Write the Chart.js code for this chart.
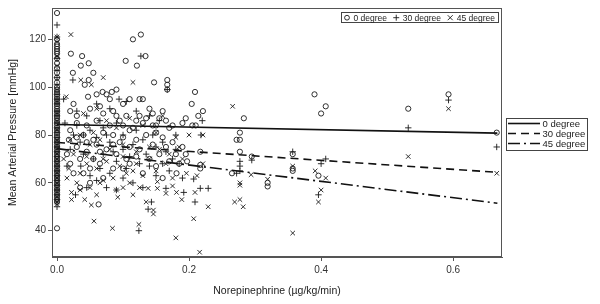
<!DOCTYPE html>
<html><head><meta charset="utf-8">
<script src="https://cdn.jsdelivr.net/npm/chart.js@4/dist/chart.umd.min.js"></script>
<style>html,body{margin:0;padding:0;background:#fff}canvas{display:block}</style>
</head><body>
<canvas id="c" width="600" height="304"></canvas>
<script>
// ---- data ----
const seriesNames = ["0 degree", "30 degree", "45 degree"];
const xTickVals = [0, 0.2, 0.4, 0.6];
const yTickVals = [40, 60, 80, 100, 120];
const xTitle = "Norepinephrine (µg/kg/min)";
const yTitle = "Mean Arterial Pressure [mmHg]";

// 0 degree (circles)
const deg0ZeroY = [131,120,118,117,116,115,114,112,110,108,106,104,102,100,99,98,97,96,95,94,93,92,91,90,89,88,87,86,85,84,83,82,81,80,79,78,77,76,75,74,73,72,71,70,69,68,67,66,65,64,63,62,61,60,59,58,57,56,55,54,53,52,41];
const deg0X = [0.021,0.038,0.036,0.048,0.024,0.055,0.048,0.042,0.047,0.06,0.069,0.075,0.083,0.09,0.104,0.115,0.121,0.127,0.134,0.147,0.167,0.167,0.167,
 0.08,0.1,0.11,0.125,0.13,0.14,0.145,0.155,0.16,0.12,0.09,0.07,0.03,0.02,0.03,0.045,0.06,0.08,0.1,0.115,0.13,0.15,0.17,0.175,0.19,0.195,
 0.02,0.03,0.04,0.055,0.07,0.085,0.1,0.11,0.12,0.135,0.15,0.16,0.175,0.19,0.015,0.03,0.045,0.06,0.075,0.09,0.105,0.12,0.14,0.155,0.17,0.185,0.197,0.02,0.035,0.05,0.065,0.1,0.13,0.16,0.181,0.04,0.07,0.05,0.035,0.063,
 0.209,0.204,0.221,0.214,0.205,0.21,0.283,0.39,0.407,0.40,0.532,0.593,0.666,
 0.277,0.277,0.272,0.217,0.277,0.295,0.357,0.357,0.357,0.265,0.319,0.319,0.396,0.217,0.217,
 0.025,0.05,0.065,0.085,0.095,0.105,0.125,0.135,0.145,0.165,0.018,0.045,0.065,0.085,0.095,0.11,0.125,0.145,0.165,0.18,0.025,0.055,0.085,0.11,0.15,0.195];
const deg0Y = [114,113,109,110,106,106,103,101,96,97,98,97,98,99,111,120,109,122,113,102,103,101,99,
 95,93,95,95,95,91,89,87,90,86,88,89,88,90,85,84,86,84,84,83,85,84,83,84,85,87,
 82,79,80,78,81,80,79,82,78,80,81,79,77,75,72,75,73,76,74,72,70,71,70,72,69,68,69,68,70,66,68,66,64,62,64,64,62,60,58,51,
 98,93,90,88,84,84,87,97,92,89,91,97,81,
 81,78,78,73,73,71,72,66,65,64,60,58.5,63,66,67.5,
 93,91,92,90,86,88,88,87,84,86,78,77,73,76,77,75,74,76,75,72,64,70,66,68,67,72];

// 30 degree (plus)
const deg30ZeroY = [126,121,112,107,104,101,97,95,93,90,88,85,83,81,79,77,75,73,71,69,67,65,63,61,59,57,55,53,50];
const deg30X = [0.024,0.127,0.167,0.01,0.03,0.045,0.06,0.08,0.094,0.105,0.12,0.14,0.155,0.09,0.07,0.05,0.025,0.035,0.06,0.08,0.1,0.115,0.13,0.15,0.165,0.18,0.02,0.04,0.055,0.07,0.09,0.11,0.125,0.14,0.16,0.175,0.015,0.036,0.05,0.065,0.08,0.1,0.115,0.13,0.15,0.17,0.185,
 0.028,0.045,0.09,0.143,0.138,0.124,0.165,0.192,0.209,0.217,0.229,0.207,0.218,0.22,0.277,0.277,0.277,0.272,0.295,0.357,0.407,0.40,0.396,0.532,0.593,0.666,
 0.012,0.03,0.04,0.065,0.075,0.085,0.1,0.12,0.135,0.145,0.16,0.18,0.19,0.06,0.075,0.105];
const deg30Y = [103,113,99,95,90,88,93,91,95,94,90,88,86,85,83,82,80,77,79,77,80,76,78,75,73,74,74,72,70,72,69,71,68,67,68,70,67,67,63,66,64,62,60,58,63,65,68,
 55,58,57,52,49,40,57.7,56,52,57.7,57.7,61.6,80,86,69,67,65,64,69.5,73,70,68,55,83,94.6,75,
 85,84,80,86,80,73,74,82,72,80,77,80,62,61,58,66];

// 45 degree (cross)
const deg45ZeroY = [121,119,113,109,99,94,89,86,82,78,76,74,72,70,68,66,64,62,60,58,56,54,52,51];
const deg45X = [0.021,0.036,0.07,0.052,0.115,0.014,0.04,0.06,0.075,0.09,0.11,0.13,0.15,0.16,0.18,0.2,0.221,0.266,
 0.02,0.035,0.05,0.065,0.08,0.1,0.12,0.14,0.17,0.19,0.01,0.025,0.045,0.06,0.075,0.095,0.115,0.13,0.15,0.175,0.196,0.015,0.03,0.05,0.065,0.09,0.11,0.125,
 0.152,0.138,0.152,0.175,0.181,0.165,0.189,0.022,0.022,0.042,0.052,0.092,0.135,0.146,0.146,0.056,0.084,0.124,0.18,0.207,
 0.209,0.212,0.221,0.229,0.269,0.277,0.282,0.277,0.277,0.294,0.319,0.357,0.216,0.391,0.407,0.396,0.40,0.532,0.593,0.666,0.357,
 0.018,0.035,0.045,0.055,0.07,0.085,0.1,0.105,0.12,0.14,0.155,0.165,0.185,0.035,0.06,0.07,0.1,0.115];
const deg45Y = [122,103,104,101,102,96,89,91,86,83,87,84,81,88,79,80,80,92,
 78,80,76,78,74,76,73,75,72,70,70,72,68,66,69,67,65,63,65,62,64,62,60,58,60,57,60,58,
 60.5,57.7,57.7,58.7,56,55.6,53,53,56,53,50.7,54,52,48.6,47,44,41,42.6,37,45,
 56,63,68,50,52,53,50,60,59,63.4,61.5,39,31,65,62,52,57,71,91,64,67,
 66,64,71,81,70,62,71,64,68,70,74,68,75,57,55,61,58,55];

// fitted regression lines (end points)
const fitX = [0, 0.667];
const fit0Y = [84.4, 80.8];
const fit30Y = [76.9, 64.4];
const fit45Y = [74.3, 51.5];

// ---- build ----
function pts(xs, ys){ return xs.map((x,i)=>({x:x, y:ys[i]})); }
function zeroPts(ys){ return ys.map(y=>({x:0, y:y})); }

const INK = '#1a1a1a';
const FONT = "'Liberation Sans', Arial, sans-serif";

const scatterBase = {type:'scatter', showLine:false, borderColor:INK, backgroundColor:'rgba(0,0,0,0)', borderWidth:0.9, pointHoverRadius:3};

const datasets = [
  Object.assign({}, scatterBase, {label:seriesNames[0], data: zeroPts(deg0ZeroY).concat(pts(deg0X,deg0Y)), pointStyle:'circle', pointRadius:2.6}),
  Object.assign({}, scatterBase, {label:seriesNames[1], data: zeroPts(deg30ZeroY).concat(pts(deg30X,deg30Y)), pointStyle:'cross', pointRadius:3.2}),
  Object.assign({}, scatterBase, {label:seriesNames[2], data: zeroPts(deg45ZeroY).concat(pts(deg45X,deg45Y)), pointStyle:'crossRot', pointRadius:3.2}),
  {type:'line', label:seriesNames[0]+' fit', data: pts(fitX, fit0Y), borderColor:'#111', borderWidth:1.6, pointRadius:0, fill:false},
  {type:'line', label:seriesNames[1]+' fit', data: pts(fitX, fit30Y), borderColor:'#111', borderWidth:1.6, borderDash:[8,5], pointRadius:0, fill:false},
  {type:'line', label:seriesNames[2]+' fit', data: pts(fitX, fit45Y), borderColor:'#111', borderWidth:1.6, borderDash:[12,4,2,4], pointRadius:0, fill:false}
];

const frameAndLegends = {
  id:'frameAndLegends',
  afterDraw(chart){
    const ctx = chart.ctx, a = chart.chartArea;
    ctx.save();
    ctx.strokeStyle = '#555'; ctx.lineWidth = 1;
    ctx.strokeRect(Math.round(a.left)+0.5, Math.round(a.top)+0.5, Math.round(a.right-a.left)-1, Math.round(a.bottom-a.top)-1);

    // top legend (markers)
    ctx.strokeStyle = '#444';
    ctx.strokeRect(341.5, 12.5, 157, 10);
    ctx.fillStyle = '#222';
    ctx.font = "8.5px " + FONT;
    ctx.textBaseline = 'middle';
    const ly = 17.7;
    const w = seriesNames.map(s=>ctx.measureText(s).width);
    const markW = 6, gapMT = 3.5;
    const total = w.reduce((p,c)=>p+c,0) + 3*(markW+gapMT);
    const gap = (157 - 6 - total) / 2;
    let cx = 344;
    ctx.strokeStyle = INK; ctx.lineWidth = 0.9;
    for (let i=0;i<3;i++){
      const mx = cx + markW/2;
      ctx.beginPath();
      if (i===0){ ctx.arc(mx, ly, 2.4, 0, Math.PI*2); }
      else if (i===1){ ctx.moveTo(mx-3, ly); ctx.lineTo(mx+3, ly); ctx.moveTo(mx, ly-3); ctx.lineTo(mx, ly+3); }
      else { ctx.moveTo(mx-2.5, ly-2.5); ctx.lineTo(mx+2.5, ly+2.5); ctx.moveTo(mx+2.5, ly-2.5); ctx.lineTo(mx-2.5, ly+2.5); }
      ctx.stroke();
      ctx.fillText(seriesNames[i], cx + markW + gapMT, ly+0.5);
      cx += markW + gapMT + w[i] + gap;
    }

    // right legend (lines)
    ctx.strokeStyle = '#444'; ctx.lineWidth = 1;
    ctx.strokeRect(506.5, 118.5, 81, 32);
    ctx.font = "9.5px " + FONT;
    const dashes = [[], [8,5], [12,4,2,4]];
    const rows = [123.5, 133.5, 143.5];
    for (let i=0;i<3;i++){
      ctx.strokeStyle = '#111'; ctx.lineWidth = 1.6; ctx.setLineDash(dashes[i]);
      ctx.beginPath(); ctx.moveTo(508, rows[i]); ctx.lineTo(540, rows[i]); ctx.stroke();
      ctx.setLineDash([]);
      ctx.fillStyle = '#222';
      ctx.fillText(seriesNames[i], 542.5, rows[i]+0.5);
    }
    ctx.restore();
  }
};

new Chart(document.getElementById('c'), {
  type:'scatter',
  data:{datasets:datasets},
  options:{
    responsive:false, animation:false, devicePixelRatio:1,
    layout:{padding:{left:7, top:8, right:98, bottom:7}},
    plugins:{legend:{display:false}, tooltip:{enabled:false}},
    scales:{
      x:{type:'linear', min:-0.0076, max:0.674,
         afterBuildTicks(s){ s.ticks = xTickVals.map(v=>({value:v})); },
         afterFit(s){ s.height = 40; },
         ticks:{color:'#333', font:{family:FONT, size:10}, padding:3, callback:v=>Number(v).toFixed(1), maxRotation:0},
         grid:{display:true, drawOnChartArea:false, drawTicks:true, tickLength:4, color:'#555'},
         border:{display:true, color:'#555'},
         title:{display:true, text:xTitle, color:'#222', font:{family:FONT, size:10.5}, padding:{top:6, bottom:0}}
      },
      y:{type:'linear', min:29, max:133.1,
         afterBuildTicks(s){ s.ticks = yTickVals.map(v=>({value:v})); },
         afterFit(s){ s.width = 45; },
         ticks:{color:'#333', font:{family:FONT, size:10}, padding:2},
         grid:{display:true, drawOnChartArea:false, drawTicks:true, tickLength:4, color:'#555'},
         border:{display:true, color:'#555'},
         title:{display:true, text:yTitle, color:'#222', font:{family:FONT, size:10.5}, padding:{top:0, bottom:0}}
      }
    }
  },
  plugins:[frameAndLegends]
});
</script>
</body></html>
